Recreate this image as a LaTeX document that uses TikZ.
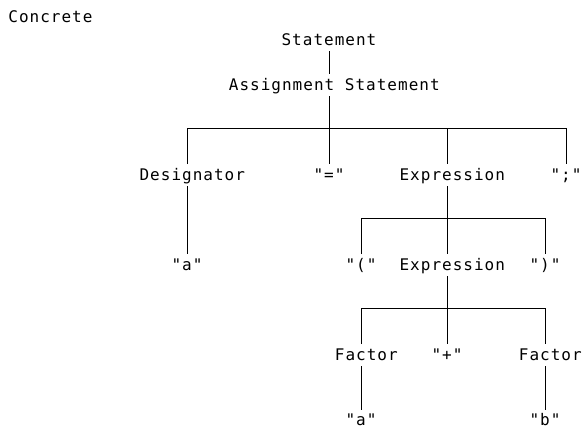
\documentclass[tikz,border=0pt]{standalone}
\usepackage{fontspec}
\newfontfamily\treefont[LetterSpace=6.3]{DejaVu Sans Mono}
\usetikzlibrary{positioning}

\begin{document}
\begin{tikzpicture}[x=1pt, y=-1pt, line width=0.8pt,
  lbl/.style={font=\treefont\fontsize{16}{16}\selectfont, anchor=base,
              inner xsep=0pt, inner ysep=3.5pt, text height=12pt, text depth=2.5pt},
  % an even count of letters puts the line under the left one of the middle pair
  even/.style={xshift=5.3pt},
  leaf/.style={text depth=0pt, inner ysep=3pt}]
\useasboundingbox (0,0) rectangle (582,429);

\node[lbl, anchor=base west] (title) at (8,22) {Concrete};

\node[lbl]      (stmt) at (329,45)  {Statement};
\node[lbl,even] (asg)  at (329,90)  {Assignment Statement};

\node[lbl,even] (des)  at (187,180) {Designator};
\node[lbl]      (eq)   at (329,180) {"="};
\node[lbl,even] (ex1)  at (447,180) {Expression};
\node[lbl]      (semi) at (566,180) {";"};

\node[lbl]      (a1)   at (187,270) {"a"};
\node[lbl]      (lp)   at (361,270) {"("};
\node[lbl,even] (ex2)  at (447,270) {Expression};
\node[lbl]      (rp)   at (545,270) {")"};

\node[lbl,even] (f1)   at (361,360) {Factor};
\node[lbl]      (plus) at (447,360) {"+"};
\node[lbl,even] (f2)   at (545,360) {Factor};

\node[lbl,leaf] (a2)   at (361,425) {"a"};
\node[lbl,leaf] (b)    at (545,425) {"b"};

\coordinate (j1) at (329,128);
\coordinate (j2) at (447,218);
\coordinate (j3) at (447,308);

\draw (stmt.south) -- (asg.north -| stmt);
\draw (asg.south -| stmt) -- (j1);
\draw (des.north -| a1) |- (j1 -| semi) -- (semi.north);
\draw (j1) -- (eq.north);
\draw (j1 -| plus) -- (ex1.north -| plus);
\draw (des.south -| a1) -- (a1.north);

\draw (ex1.south -| plus) -- (j2);
\draw (lp.north) |- (j2 -| rp) -- (rp.north);
\draw (j2) -- (ex2.north -| plus);

\draw (ex2.south -| plus) -- (j3);
\draw (f1.north -| a2) |- (j3 -| b) -- (f2.north -| b);
\draw (j3) -- (plus.north);
\draw (f1.south -| a2) -- (a2.north);
\draw (f2.south -| b) -- (b.north);
\end{tikzpicture}
\end{document}
